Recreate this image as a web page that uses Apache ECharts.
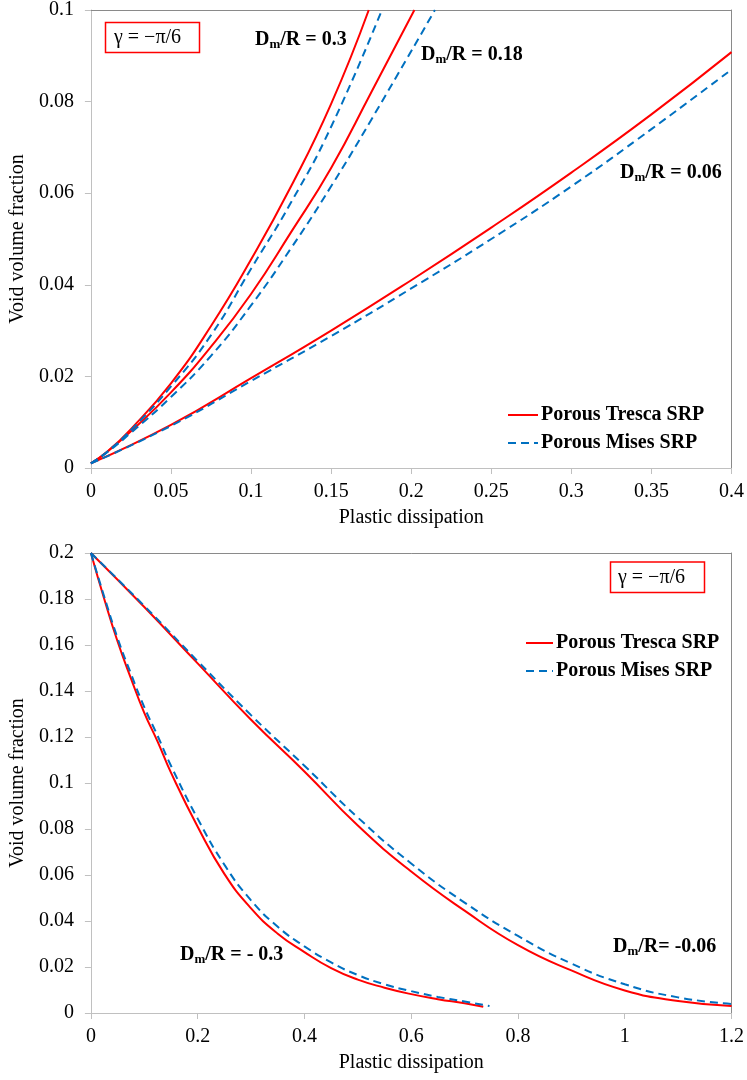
<!DOCTYPE html>
<html>
<head>
<meta charset="utf-8">
<script src="https://cdn.jsdelivr.net/npm/echarts/dist/echarts.min.js"></script>
<style>
html, body { margin: 0; padding: 0; background: #ffffff; }
#chart { width: 747px; height: 1080px; }
</style>
</head>
<body>
<div id="chart"></div>
<script>
// ---------- Top panel (gamma = -pi/6, positive Dm/R) ----------
const topTresca030X = [0, 0.01, 0.025, 0.05, 0.075, 0.1, 0.125, 0.15, 0.1735];
const topTresca030Y = [0.001, 0.0035, 0.0085, 0.0185, 0.031, 0.0455, 0.0615, 0.0795, 0.1];
const topMises030X  = [0, 0.01, 0.025, 0.05, 0.075, 0.1, 0.125, 0.15, 0.1817];
const topMises030Y  = [0.001, 0.0035, 0.0083, 0.0178, 0.029, 0.0435, 0.058, 0.0745, 0.1];

const topTresca018X = [0, 0.01, 0.025, 0.05, 0.075, 0.1, 0.125, 0.15, 0.175, 0.202];
const topTresca018Y = [0.001, 0.0035, 0.008, 0.0165, 0.0265, 0.038, 0.0515, 0.0655, 0.082, 0.1];
const topMises018X  = [0, 0.01, 0.025, 0.05, 0.075, 0.1, 0.125, 0.15, 0.175, 0.2148];
const topMises018Y  = [0.001, 0.0034, 0.0077, 0.0155, 0.0245, 0.0355, 0.048, 0.0615, 0.076, 0.1];

const topTresca006X = [0, 0.05, 0.1, 0.15, 0.2, 0.25, 0.3, 0.35, 0.4];
const topTresca006Y = [0.001, 0.0094, 0.0196, 0.03, 0.041, 0.0525, 0.0645, 0.0772, 0.0908];
const topMises006X  = [0, 0.05, 0.1, 0.15, 0.2, 0.25, 0.3, 0.35, 0.4];
const topMises006Y  = [0.001, 0.0092, 0.019, 0.0288, 0.0392, 0.05, 0.0615, 0.074, 0.087];

// ---------- Bottom panel (gamma = -pi/6, negative Dm/R) ----------
const botTrescaM030X = [0, 0.025, 0.05, 0.075, 0.1, 0.125, 0.15, 0.2, 0.25, 0.3, 0.35, 0.4, 0.45, 0.5, 0.55, 0.6, 0.65, 0.7, 0.735];
const botTrescaM030Y = [0.2, 0.18, 0.1615, 0.1455, 0.1305, 0.118, 0.1045, 0.081, 0.0605, 0.0455, 0.0345, 0.0265, 0.0195, 0.0145, 0.011, 0.0082, 0.006, 0.0042, 0.0027];
const botMisesM030X  = [0, 0.025, 0.05, 0.075, 0.1, 0.125, 0.15, 0.2, 0.25, 0.3, 0.35, 0.4, 0.45, 0.5, 0.55, 0.6, 0.65, 0.7, 0.7467];
const botMisesM030Y  = [0.2, 0.181, 0.163, 0.1475, 0.133, 0.1205, 0.1075, 0.0845, 0.0645, 0.049, 0.0375, 0.029, 0.022, 0.0165, 0.0125, 0.0095, 0.007, 0.005, 0.003];

const botTrescaM006X = [0, 0.1, 0.2, 0.3, 0.4, 0.5, 0.6, 0.7, 0.8, 0.9, 1.0, 1.1, 1.2];
const botTrescaM006Y = [0.2, 0.1765, 0.152, 0.1275, 0.105, 0.0815, 0.0615, 0.0445, 0.0295, 0.0185, 0.0098, 0.0052, 0.003];
const botMisesM006X  = [0, 0.1, 0.2, 0.3, 0.4, 0.5, 0.6, 0.7, 0.8, 0.9, 1.0, 1.1, 1.2];
const botMisesM006Y  = [0.2, 0.177, 0.153, 0.1295, 0.1075, 0.085, 0.065, 0.048, 0.0335, 0.0215, 0.0125, 0.0068, 0.0039];

// ---------- Texts ----------
const seriesNames = ['Porous Tresca SRP', 'Porous Mises SRP'];
const xAxisTitle = 'Plastic dissipation';
const yAxisTitle = 'Void volume fraction';
const gammaText = 'γ = −π/6';
const topCurveLabels = ['/R = 0.3', '/R = 0.18', '/R = 0.06'];
const botCurveLabels = ['/R = - 0.3', '/R= -0.06'];

// ---------- Styling ----------
const FONT = '"Liberation Serif", "Times New Roman", serif';
const RED = '#ff0000';
const BLUE = '#0070c0';
const AXIS_LIGHT = '#c0c0c0';
const AXIS_DARK = '#8a8a8a';

function zip(xs, ys) { return xs.map((x, i) => [x, ys[i]]); }

function curve(nameIdx, xs, ys, gi) {
  const dashed = nameIdx === 1;
  return {
    name: seriesNames[nameIdx],
    type: 'line',
    xAxisIndex: gi * 2,
    yAxisIndex: gi * 2,
    data: zip(xs, ys),
    showSymbol: false,
    symbol: 'none',
    smooth: 0.5,
    clip: true,
    lineStyle: { color: dashed ? BLUE : RED, width: 2, type: dashed ? [8, 5] : 'solid' },
    itemStyle: { color: dashed ? BLUE : RED },
    z: dashed ? 3 : 2
  };
}

function mainX(gi, max, interval) {
  return {
    gridIndex: gi, type: 'value', position: 'bottom', min: 0, max: max, interval: interval,
    name: xAxisTitle, nameLocation: 'middle', nameGap: 40,
    nameTextStyle: { fontFamily: FONT, fontSize: 20, color: '#000' },
    axisLine: { show: true, onZero: false, lineStyle: { color: AXIS_LIGHT, width: 1 } },
    axisTick: { show: true, inside: false, length: 6, lineStyle: { color: AXIS_LIGHT } },
    axisLabel: { fontFamily: FONT, fontSize: 20, color: '#000', margin: 14 },
    splitLine: { show: false }
  };
}
function borderX(gi, max) {
  return {
    gridIndex: gi, type: 'value', position: 'top', min: 0, max: max,
    axisLine: { show: true, onZero: false, lineStyle: { color: AXIS_DARK, width: 1 } },
    axisTick: { show: false }, axisLabel: { show: false }, splitLine: { show: false }
  };
}
function mainY(gi, max, interval) {
  return {
    gridIndex: gi, type: 'value', position: 'left', min: 0, max: max, interval: interval,
    name: yAxisTitle, nameLocation: 'middle', nameGap: 52, nameRotate: 90,
    nameTextStyle: { fontFamily: FONT, fontSize: 20, color: '#000' },
    axisLine: { show: true, onZero: false, lineStyle: { color: AXIS_LIGHT, width: 1 } },
    axisTick: { show: true, inside: false, length: 6, lineStyle: { color: AXIS_LIGHT } },
    axisLabel: { fontFamily: FONT, fontSize: 20, color: '#000', margin: 17 },
    splitLine: { show: false }
  };
}
function borderY(gi, max) {
  return {
    gridIndex: gi, type: 'value', position: 'right', min: 0, max: max,
    axisLine: { show: true, onZero: false, lineStyle: { color: AXIS_DARK, width: 1 } },
    axisTick: { show: false }, axisLabel: { show: false }, splitLine: { show: false }
  };
}

function legend(left, top, itemWidth) {
  return {
    data: seriesNames,
    orient: 'vertical', left: left, top: top,
    itemWidth: itemWidth, itemHeight: 12, itemGap: 8, selectedMode: false,
    itemStyle: { opacity: 0, color: 'rgba(0,0,0,0)', borderWidth: 0 },
    textStyle: { fontFamily: FONT, fontSize: 20, fontWeight: 'bold', color: '#000', padding: [0, 0, 0, -2] }
  };
}

function dmLabel(x, y, rest) {
  return {
    type: 'text', x: x, y: y, z: 10,
    style: {
      text: '{n|D}{s|m}{n|' + rest + '}',
      verticalAlign: 'middle', fill: '#000',
      rich: {
        n: { fontFamily: FONT, fontSize: 20, fontWeight: 'bold', fill: '#000' },
        s: { fontFamily: FONT, fontSize: 13, fontWeight: 'bold', fill: '#000', padding: [9, 0, 0, 0] }
      }
    }
  };
}
function gammaBox(x, y, w, h, tx) {
  return [
    { type: 'rect', z: 10, shape: { x: x, y: y, width: w, height: h },
      style: { fill: 'none', stroke: RED, lineWidth: 1.5 } },
    { type: 'text', z: 10, x: tx, y: y + h / 2,
      style: { text: gammaText, fontFamily: FONT, fontSize: 20, fill: '#000', verticalAlign: 'middle' } }
  ];
}

const chart = echarts.init(document.getElementById('chart'), null, { renderer: 'canvas' });
chart.setOption({
  animation: false,
  backgroundColor: '#ffffff',
  grid: [
    { left: 87, right: 15, top: 10, height: 458, containLabel: false },
    { left: 87, right: 15, top: 553, height: 460, containLabel: false }
  ],
  xAxis: [mainX(0, 0.4, 0.05), borderX(0, 0.4), mainX(1, 1.2, 0.2), borderX(1, 1.2)],
  yAxis: [mainY(0, 0.1, 0.02), borderY(0, 0.1), mainY(1, 0.2, 0.02), borderY(1, 0.2)],
  legend: [legend(502, 400, 30), legend(520, 628, 27)],
  series: [
    curve(0, topTresca030X, topTresca030Y, 0),
    curve(0, topTresca018X, topTresca018Y, 0),
    curve(0, topTresca006X, topTresca006Y, 0),
    curve(1, topMises030X, topMises030Y, 0),
    curve(1, topMises018X, topMises018Y, 0),
    curve(1, topMises006X, topMises006Y, 0),
    curve(0, botTrescaM030X, botTrescaM030Y, 1),
    curve(0, botTrescaM006X, botTrescaM006Y, 1),
    curve(1, botMisesM030X, botMisesM030Y, 1),
    curve(1, botMisesM006X, botMisesM006Y, 1)
  ],
  graphic: [].concat(
    gammaBox(105.5, 22.5, 94, 30, 114),
    gammaBox(610.5, 562, 94, 30.5, 618),
    [
      dmLabel(255, 40, topCurveLabels[0]),
      dmLabel(421, 55, topCurveLabels[1]),
      dmLabel(620, 173, topCurveLabels[2]),
      dmLabel(180, 955, botCurveLabels[0]),
      dmLabel(613, 947, botCurveLabels[1])
    ]
  )
});
</script>
</body>
</html>
